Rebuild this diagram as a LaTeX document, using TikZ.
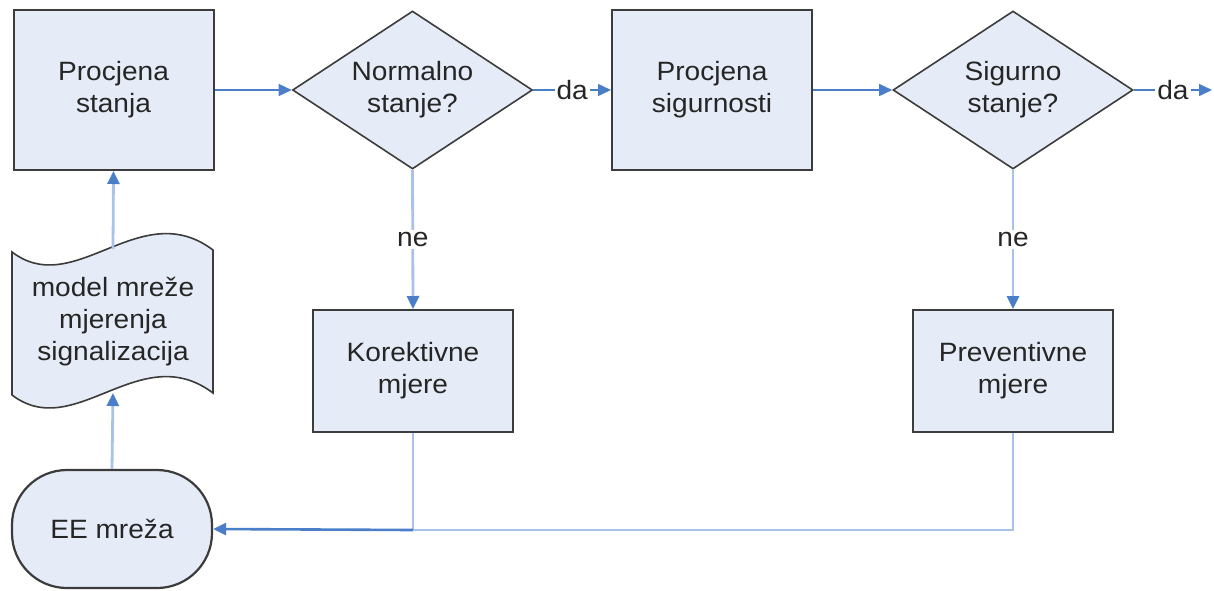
\documentclass[tikz,border=0pt]{standalone}
\usepackage{fontspec}
\setmainfont[FakeStretch=1.06]{Liberation Sans}
\usetikzlibrary{arrows.meta,shapes.geometric}
\definecolor{fillc}{HTML}{E6ECF7}
\definecolor{edgec}{HTML}{3C3C3C}
\definecolor{darkl}{HTML}{4A7EC8}
\definecolor{lightl}{HTML}{A8C2E8}
\definecolor{txt}{HTML}{262626}
\tikzset{
  lbltext/.style={text=txt, font=\fontsize{26.5}{32}\selectfont, align=center},
  box/.style={lbltext, draw=edgec, line width=2, fill=fillc, minimum width=200, minimum height=160, inner sep=0},
  smallbox/.style={box, minimum height=122},
  decision/.style={diamond, draw=edgec, line width=1.6, fill=fillc, minimum width=240, minimum height=158, inner sep=0},
  terminal/.style={lbltext, draw=edgec, line width=2.2, fill=fillc, rounded corners=55, minimum width=200, minimum height=118, inner sep=0},
  docshape/.style={draw=edgec, line width=1.6, fill=fillc},
  tip/.style={-{Triangle[length=13,width=12,color=darkl]}},
  darkarr/.style={tip, draw=darkl, line width=1.5},
  lightarr/.style={tip, draw=lightl, line width=2.8},
  lightline/.style={draw=lightl, line width=2.8},
  darkline/.style={draw=darkl, line width=2.6},
  edgelbl/.style={lbltext, fill=white, inner sep=2}
}
\begin{document}
\begin{tikzpicture}[x=1pt,y=-1pt]
\useasboundingbox (0,0) rectangle (1214,590);
% nodes
\node[box] (ps) at (113.5,90) {Procjena\\stanja};
\node[decision] (nd) at (412.5,90) {};
\node[lbltext] (ndt) at (nd.center) {Normalno\\stanje?};
\node[box] (pss) at (712,90) {Procjena\\sigurnosti};
\node[decision] (sd) at (1013,90) {};
\node[lbltext] (sdt) at (sd.center) {Sigurno\\stanje?};
\node[smallbox] (km) at (413,371) {Korektivne\\mjere};
\node[smallbox] (pm) at (1013,371) {Preventivne\\mjere};
\node[terminal] (ee) at (112,529) {EE mreža};
% document shape
\draw[docshape] (12,252) .. controls (75,300) and (140,195) .. (213,250) -- (213,393)
  .. controls (140,338) and (75,443) .. (12,395) -- cycle;
\node[lbltext] (doc) at (113,322) {model mreže\\mjerenja\\signalizacija};
\coordinate (doctop) at (113,249);
\coordinate (docbot) at (113,393);
\coordinate (out) at (1212,90);
\coordinate (j1) at (413,530);
\coordinate (j2) at (1013,530);
% connectors
\draw[darkarr] (ps.east) -- (nd.west);
\draw[darkarr] (nd.east) -- node[edgelbl] {da} (pss.west);
\draw[darkarr] (pss.east) -- (sd.west);
\draw[darkarr] (sd.east) -- node[edgelbl] {da} (out);
\draw[lightarr] (nd.south) -- node[edgelbl] {ne} (km.north);
\draw[lightarr] (sd.south) -- node[edgelbl] {ne} (pm.north);
\draw[lightline] (km.south) -- (j1);
\draw[lightline] (pm.south) -- (j2) -- (j1);
\draw[darkline, tip] (j1) -- (ee.east);
\draw[lightarr] (ee.north) -- (docbot);
\draw[lightarr] (doctop) -- (ps.south);
\end{tikzpicture}
\end{document}
